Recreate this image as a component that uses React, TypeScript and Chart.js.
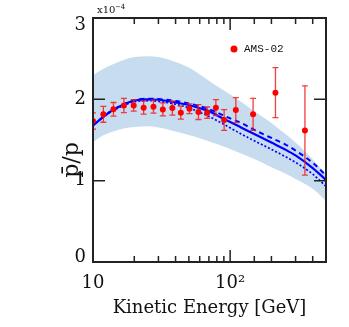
import React, { useEffect, useRef } from 'react';
import { Chart, registerables } from 'chart.js';

Chart.register(...registerables);

// AMS-02 data points
const energies = [10.0, 11.9, 14.1, 16.8, 19.8, 23.4, 27.6, 32.3, 37.9, 43.7, 50.5, 58.7, 68.0, 78.7, 90.4, 110, 147, 214, 351];
const ratio = [1.733, 1.816, 1.877, 1.925, 1.925, 1.898, 1.91, 1.876, 1.893, 1.836, 1.885, 1.844, 1.836, 1.898, 1.746, 1.868, 1.816, 2.082, 1.617];
const errors = [0.1, 0.098, 0.084, 0.088, 0.07, 0.08, 0.08, 0.08, 0.086, 0.08, 0.06, 0.092, 0.07, 0.098, 0.127, 0.154, 0.197, 0.307, 0.549];

// model curves
const gridE = [10, 12, 14, 17, 20, 25, 30, 40, 50, 60, 70, 80, 100, 120, 150, 200, 250, 300, 400, 500];
const solid = [1.68, 1.79, 1.87, 1.94, 1.985, 2.0, 1.995, 1.962, 1.93, 1.89, 1.855, 1.805, 1.72, 1.655, 1.573, 1.468, 1.386, 1.31, 1.155, 1.01];
const dashed = [1.68, 1.79, 1.87, 1.945, 1.99, 2.008, 2.005, 1.98, 1.95, 1.915, 1.88, 1.84, 1.765, 1.71, 1.625, 1.525, 1.45, 1.37, 1.22, 1.065];
const dotted = [1.68, 1.785, 1.86, 1.93, 1.97, 1.985, 1.975, 1.94, 1.895, 1.84, 1.79, 1.74, 1.65, 1.575, 1.49, 1.385, 1.3, 1.225, 1.08, 0.93];
const bandHigh = [2.3, 2.38, 2.43, 2.49, 2.52, 2.53, 2.52, 2.46, 2.39, 2.305, 2.23, 2.165, 2.06, 1.97, 1.855, 1.71, 1.58, 1.47, 1.26, 1.08];
const bandLow = [1.475, 1.56, 1.605, 1.645, 1.66, 1.668, 1.655, 1.605, 1.56, 1.52, 1.485, 1.45, 1.39, 1.335, 1.265, 1.165, 1.09, 1.02, 0.9, 0.75];

const yTicks = [0, 1, 2, 3];

const SERIF = '"DejaVu Serif", serif';

const toXY = (xs: number[], ys: number[]) => xs.map((x, i) => ({ x, y: ys[i] }));

const decorPlugin = {
  id: 'decor',
  beforeDatasetDraw(chart: any, args: any) {
    if (args.index !== 0) return;
    const { ctx, chartArea: a, scales } = chart;
    const x = scales.x, y = scales.y;
    ctx.save();
    ctx.beginPath();
    ctx.rect(a.left, a.top, a.right - a.left, a.bottom - a.top);
    ctx.clip();
    ctx.strokeStyle = 'rgba(238,30,30,0.85)';
    ctx.lineWidth = 1.3;
    energies.forEach((e, i) => {
      const px = x.getPixelForValue(e);
      const y1 = y.getPixelForValue(ratio[i] - errors[i]);
      const y2 = y.getPixelForValue(ratio[i] + errors[i]);
      ctx.beginPath();
      ctx.moveTo(px, y1); ctx.lineTo(px, y2);
      ctx.moveTo(px - 3, y1); ctx.lineTo(px + 3, y1);
      ctx.moveTo(px - 3, y2); ctx.lineTo(px + 3, y2);
      ctx.stroke();
    });
    ctx.restore();
  },
  afterDraw(chart: any) {
    const { ctx, chartArea: a, scales } = chart;
    const x = scales.x, y = scales.y;
    ctx.save();
    // ticks
    ctx.strokeStyle = '#222';
    ctx.lineWidth = 1.5;
    ctx.beginPath();
    x.ticks.forEach((t: any) => {
      const v = t.value;
      const px = x.getPixelForValue(v);
      const lg = Math.log10(v);
      const major = Math.abs(lg - Math.round(lg)) < 1e-6;
      const len = major ? 12 : 6;
      ctx.moveTo(px, a.bottom); ctx.lineTo(px, a.bottom - len);
      ctx.moveTo(px, a.top); ctx.lineTo(px, a.top + len);
    });
    yTicks.forEach((v) => {
      const py = y.getPixelForValue(v);
      ctx.moveTo(a.left, py); ctx.lineTo(a.left + 12, py);
      ctx.moveTo(a.right, py); ctx.lineTo(a.right - 12, py);
    });
    ctx.stroke();
    // frame
    ctx.lineWidth = 2;
    ctx.strokeRect(a.left, a.top, a.right - a.left, a.bottom - a.top);

    // y tick labels
    ctx.fillStyle = '#111';
    ctx.font = `18px ${SERIF}`;
    ctx.textAlign = 'right';
    ctx.textBaseline = 'middle';
    yTicks.forEach((v) => {
      let py = y.getPixelForValue(v);
      py = Math.min(Math.max(py, a.top + 7), a.bottom - 5);
      ctx.fillText(String(v), a.left - 7, py);
    });

    // y title
    ctx.save();
    ctx.translate(72, 160);
    ctx.rotate(-Math.PI / 2);
    ctx.textAlign = 'center';
    ctx.textBaseline = 'middle';
    ctx.font = `22px ${SERIF}`;
    ctx.fillText('p\u0304/p', 0, 0);
    ctx.restore();

    // exponent
    ctx.textAlign = 'left';
    ctx.textBaseline = 'alphabetic';
    ctx.font = `10px ${SERIF}`;
    ctx.fillText('x10', 97, 13);
    ctx.font = `7px ${SERIF}`;
    ctx.fillText('\u22124', 115, 9);

    // legend
    ctx.fillStyle = '#ff0000';
    ctx.beginPath();
    ctx.arc(234, 49, 3.5, 0, Math.PI * 2);
    ctx.fill();
    ctx.fillStyle = '#111';
    ctx.font = '11px "Liberation Mono", monospace';
    ctx.textBaseline = 'middle';
    ctx.fillText('AMS-02', 244, 49);
    ctx.restore();
  },
};

export default function App() {
  const ref = useRef<HTMLCanvasElement>(null);
  useEffect(() => {
    if (!ref.current) return;
    const chart = new Chart(ref.current, {
      type: 'line',
      data: {
        datasets: [
          {
            label: 'AMS-02',
            data: toXY(energies, ratio),
            showLine: false,
            pointRadius: 3,
            pointBackgroundColor: '#ff0000',
            pointBorderWidth: 0,
            borderColor: '#ff0000',
          },
          {
            label: 'solid',
            data: toXY(gridE, solid),
            borderColor: '#0000ff',
            borderWidth: 2.2,
            pointRadius: 0,
            cubicInterpolationMode: 'monotone',
            fill: false,
          },
          {
            label: 'dashed',
            data: toXY(gridE, dashed),
            borderColor: '#0000ff',
            borderWidth: 2,
            borderDash: [5, 4],
            pointRadius: 0,
            cubicInterpolationMode: 'monotone',
            fill: false,
          },
          {
            label: 'dotted',
            data: toXY(gridE, dotted),
            borderColor: '#0000ff',
            borderWidth: 1.7,
            borderDash: [2, 2],
            pointRadius: 0,
            cubicInterpolationMode: 'monotone',
            fill: false,
          },
          {
            label: 'bandLow',
            data: toXY(gridE, bandLow),
            borderWidth: 0,
            borderColor: 'rgba(0,0,0,0)',
            pointRadius: 0,
            cubicInterpolationMode: 'monotone',
            fill: false,
          },
          {
            label: 'bandHigh',
            data: toXY(gridE, bandHigh),
            borderWidth: 0,
            borderColor: 'rgba(0,0,0,0)',
            backgroundColor: 'rgb(200,220,239)',
            pointRadius: 0,
            cubicInterpolationMode: 'monotone',
            fill: '-1',
          },
        ] as any,
      },
      options: {
        animation: false,
        responsive: false,
        layout: { padding: { left: 0, right: 23, top: 18, bottom: 0 } },
        plugins: { legend: { display: false }, tooltip: { enabled: false } },
        scales: {
          x: {
            type: 'logarithmic',
            min: 10,
            max: 500,
            grid: { display: false, drawTicks: false },
            border: { display: false },
            ticks: {
              autoSkip: false,
              maxRotation: 0,
              minRotation: 0,
              padding: 11,
              color: '#111',
              font: { family: SERIF, size: 18 },
              callback: (v: any) => {
                const lg = Math.log10(Number(v));
                if (Math.abs(lg - 1) < 1e-6) return '10';
                if (Math.abs(lg - 2) < 1e-6) return '10\u00B2';
                return '';
              },
            },
            title: {
              display: true,
              text: 'Kinetic Energy [GeV]',
              color: '#111',
              font: { family: SERIF, size: 18 },
              padding: { top: 0, bottom: 8 },
            },
            afterFit: (s: any) => { s.height = 65; },
          },
          y: {
            type: 'linear',
            min: 0,
            max: 3,
            ticks: { display: false, stepSize: 1 },
            grid: { display: false, drawTicks: false },
            border: { display: false },
            afterFit: (s: any) => { s.width = 93; },
          },
        },
      } as any,
      plugins: [decorPlugin],
    });
    return () => chart.destroy();
  }, []);
  return (
    <div style={{ position: 'fixed', left: 0, top: 0, width: 349, height: 327, background: '#fff' }}>
      <canvas ref={ref} width={349} height={327} style={{ display: 'block' }} />
    </div>
  );
}
